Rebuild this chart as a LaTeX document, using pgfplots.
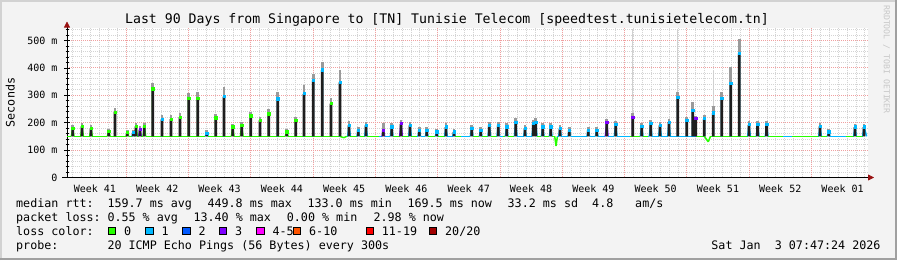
\documentclass[border=0pt]{standalone}
\usepackage{pgfplots}
\pgfplotsset{compat=1.18}
\usepackage{pgfplotstable}
\usepackage{fontspec}
\setmainfont{DejaVu Sans Mono}
\setmonofont{DejaVu Sans Mono}
\usetikzlibrary{arrows.meta}
\definecolor{bgc}{HTML}{F3F3F3}
\definecolor{framelight}{HTML}{D2D2D2}
\definecolor{framedark}{HTML}{A0A0A0}
\definecolor{gridred}{HTML}{F0A0A0}
\definecolor{gridgray}{HTML}{D4D4D4}
\definecolor{arrowred}{HTML}{991111}
\definecolor{barblack}{HTML}{1E1E1E}
\definecolor{smoke}{HTML}{9A9A9A}
\definecolor{faint}{HTML}{D0D0D0}
\definecolor{lossA}{HTML}{26FF00}
\definecolor{lossB}{HTML}{00B8FF}
\definecolor{lossC}{HTML}{0059FF}
\definecolor{lossD}{HTML}{7E00FF}
\definecolor{lossE}{HTML}{FF00FF}
\definecolor{lossF}{HTML}{FF5500}
\definecolor{lossG}{HTML}{FF0000}
\definecolor{lossH}{HTML}{A10000}
\newcommand\axisfont{\fontsize{10}{12}\selectfont}
\newcommand\lgfont{\fontsize{11.7}{14}\selectfont}

\pgfplotsset{chartgeom/.style={
  at={(67pt,82.5pt)}, anchor=south west,
  scale only axis, width=801pt, height=150pt,
  xmin=0, xmax=90, ymin=0, ymax=547}}

\pgfplotstableread{
d top smoke c
0.64 179 192 0
1.69 187 198 0
2.70 179 190 0
4.69 169 178 0
5.39 239 252 0
6.78 164 172 0
7.45 165 174 1
7.75 187 198 0
8.20 176 186 2
8.69 187 200 0
9.63 324 345 0
10.67 213 228 1
11.69 214 228 0
12.70 221 236 0
13.67 288 308 0
14.69 290 310 0
15.70 163 172 1
16.71 218 232 0
17.64 296 330 1
18.62 185 196 0
19.63 191 204 0
20.64 225 240 0
21.69 209 222 0
22.66 233 250 0
23.67 287 312 1
24.69 167 176 0
25.70 209 222 0
26.63 306 336 1
27.67 355 379 1
28.69 393 421 1
29.66 270 290 0
30.67 348 391 1
31.69 191 205 1
32.73 173 185 1
33.60 191 204 1
35.54 173 200 2
36.48 185 198 1
37.53 197 210 2
38.54 191 204 1
39.58 173 185 1
40.42 173 185 1
41.54 167 178 1
42.58 185 198 1
43.48 167 178 1
45.47 179 190 1
46.48 173 185 1
47.45 191 204 1
48.46 191 204 1
49.40 185 198 1
50.42 203 218 1
51.46 179 192 1
52.39 197 210 1
52.66 203 218 1
53.45 185 198 1
54.35 185 198 1
55.39 179 192 1
56.44 173 185 1
58.57 173 185 1
59.52 173 185 1
60.64 203 215 2
61.65 195 205 1
63.56 219 235 2
64.57 188 198 1
65.58 197 208 1
66.63 191 202 1
67.64 203 215 1
68.62 294 310 1
69.63 209 222 1
70.30 245 276 1
70.64 215 225 2
71.61 215 228 1
72.62 236 260 1
73.56 288 312 1
74.57 345 403 1
75.54 454 505 1
76.63 193 205 1
77.60 193 205 1
78.61 193 205 1
84.61 187 198 1
85.58 167 176 1
88.54 185 196 1
89.55 185 196 1
}\spikes

\pgfplotstableread{
d lo hi
63.56 235 540
68.62 310 540
72.62 260 390
}\faint

\pgfplotstableread{
d y m
0.00 150 0
0.49 150 0
0.64 179 0
0.79 150 0
1.54 150 0
1.69 187 0
1.84 150 0
2.55 150 0
2.70 179 0
2.85 150 0
4.54 150 0
4.69 169 0
4.84 150 0
5.38 150 0
5.39 239 0
5.40 150 0
6.63 150 0
6.78 164 0
6.93 150 0
7.30 150 1
7.45 165 1
7.60 150 0
7.75 187 0
7.90 150 0
8.05 150 2
8.20 176 2
8.35 150 0
8.54 150 0
8.69 187 0
8.84 150 0
9.62 150 0
9.63 324 0
9.64 150 0
10.66 150 1
10.67 213 1
10.68 150 0
11.68 150 0
11.69 214 0
11.70 150 0
12.69 150 0
12.70 221 0
12.71 150 0
13.66 150 0
13.67 288 0
13.68 150 0
14.68 150 0
14.69 290 0
14.70 150 0
15.55 150 1
15.70 163 1
15.85 150 0
16.70 150 0
16.71 218 0
16.72 150 0
17.63 150 1
17.64 296 1
17.65 150 0
18.47 150 0
18.62 185 0
18.77 150 0
19.48 150 0
19.63 191 0
19.78 150 0
20.63 150 0
20.64 225 0
20.65 150 0
21.68 150 0
21.69 209 0
21.70 150 0
22.65 150 0
22.66 233 0
22.67 150 0
23.66 150 1
23.67 287 1
23.68 150 0
24.54 150 0
24.69 167 0
24.84 150 0
25.69 150 0
25.70 209 0
25.71 150 0
26.62 150 1
26.63 306 1
26.64 150 0
27.66 150 1
27.67 355 1
27.68 150 0
28.68 150 1
28.69 393 1
28.70 150 0
29.65 150 0
29.66 270 0
29.67 150 0
30.66 150 1
30.67 348 1
30.68 150 0
31.10 145 0
31.40 150 0
31.54 150 1
31.69 191 1
31.84 150 0
32.58 150 1
32.73 173 1
32.88 150 0
33.45 150 1
33.60 191 1
33.75 150 0
35.00 150 1
35.39 150 2
35.54 173 2
35.69 150 1
36.33 150 1
36.48 185 1
36.63 150 0
37.38 150 2
37.53 197 2
37.68 150 0
38.39 150 1
38.54 191 1
38.69 150 0
39.30 150 1
39.43 150 1
39.58 173 1
39.73 150 1
40.27 150 1
40.42 173 1
40.57 150 0
41.39 150 1
41.54 167 1
41.69 150 0
42.43 150 1
42.58 185 1
42.73 150 1
43.33 150 1
43.48 167 1
43.63 150 0
44.30 150 1
45.32 150 1
45.47 179 1
45.62 150 0
46.33 150 1
46.48 173 1
46.63 150 0
47.30 150 1
47.45 191 1
47.60 150 0
48.31 150 1
48.46 191 1
48.61 150 1
49.00 150 0
49.25 150 1
49.40 185 1
49.55 150 0
50.27 150 1
50.42 203 1
50.57 150 1
51.31 150 1
51.46 179 1
51.61 150 1
52.24 150 1
52.39 197 1
52.52 165 1
52.66 203 1
52.81 150 0
53.30 150 1
53.45 185 1
53.60 150 0
54.20 150 1
54.35 185 1
54.50 150 0
54.80 150 0
54.95 115 0
55.10 150 1
55.24 150 1
55.39 179 1
55.54 150 1
56.29 150 1
56.44 173 1
56.59 150 1
58.42 150 1
58.57 173 1
58.72 150 1
59.37 150 1
59.52 173 1
59.67 150 1
60.49 150 2
60.64 203 2
60.79 150 1
61.50 150 1
61.65 195 1
61.80 150 1
63.30 150 0
63.55 150 2
63.56 219 2
63.57 150 0
64.42 150 1
64.57 188 1
64.72 150 0
65.30 150 1
65.43 150 1
65.58 197 1
65.73 150 1
66.48 150 1
66.63 191 1
66.78 150 1
67.49 150 1
67.64 203 1
67.79 150 1
68.61 150 1
68.62 294 1
68.63 150 1
69.62 150 1
69.63 209 1
69.64 150 1
70.29 150 1
70.30 245 1
70.31 150 1
70.63 150 2
70.64 215 2
70.65 150 0
71.60 150 1
71.61 215 1
71.62 150 0
72.05 130 0
72.30 150 0
72.61 150 1
72.62 236 1
72.63 150 0
73.55 150 1
73.56 288 1
73.57 150 0
74.56 150 1
74.57 345 1
74.58 150 0
75.53 150 1
75.54 454 1
75.55 150 0
76.48 150 1
76.63 193 1
76.78 150 0
77.45 150 1
77.60 193 1
77.75 150 0
78.46 150 1
78.61 193 1
78.76 150 0
80.50 150 1
81.50 150 0
84.46 150 1
84.61 187 1
84.76 150 0
85.43 150 1
85.58 167 1
85.73 150 1
87.50 150 0
88.39 150 1
88.54 185 1
88.69 150 0
89.40 150 1
89.55 185 1
89.85 150 1
}\median

\begin{document}
\begin{tikzpicture}
% canvas
\fill[bgc] (0pt,0pt) rectangle (897pt,260pt);
\draw[framelight, line width=2pt] (1pt,0pt) -- (1pt,259pt) -- (897pt,259pt);
\draw[framedark, line width=2pt] (0pt,1pt) -- (896pt,1pt) -- (896pt,260pt);

\begin{axis}[
  chartgeom,
  axis background/.style={fill=white},
  axis lines=left,
  axis line style={black, line width=0.8pt},
  x axis line style={shorten <=-5pt, shorten >=-6pt, -{Triangle[length=6pt,width=6pt,color=arrowred]}},
  y axis line style={shorten >=-6pt, -{Triangle[length=6pt,width=6pt,color=arrowred]}},
  xtick={3.14,10.14,...,87.14},
  xticklabels={Week 41,Week 42,Week 43,Week 44,Week 45,Week 46,Week 47,Week 48,Week 49,Week 50,Week 51,Week 52,Week 01},
  minor xtick={0.64,1.64,...,89.64},
  extra x ticks={6.64,13.64,...,83.64},
  extra x tick labels={},
  extra x tick style={grid=major},
  xtick style={draw=none},
  ytick={0,100,...,500},
  yticklabels={0,100 m,200 m,300 m,400 m,500 m},
  minor ytick={20,40,...,540},
  ytick style={black, line width=0.6pt},
  tick align=center,
  major tick length=6pt, minor tick length=3pt,
  ymajorgrids, yminorgrids, xminorgrids,
  major grid style={draw=gridred, line width=0.7pt, dash pattern=on 1pt off 1pt},
  minor grid style={draw=gridgray, line width=0.7pt, dash pattern=on 1pt off 1pt},
  yticklabel style={font=\axisfont, anchor=east, inner sep=0pt, xshift=-6.3pt},
  xticklabel style={font=\axisfont, anchor=base, inner sep=0pt, yshift=-12.5pt},
]
% faint tall smoke
\addplot[quiver={u=0, v=\thisrow{hi}-\thisrow{lo}}, -, draw=faint, line width=1pt, forget plot]
  table[x=d, y=lo] {\faint};
% smoke above median
\addplot[quiver={u=0, v=\thisrow{smoke}-\thisrow{top}}, -, draw=smoke, line width=2.6pt, forget plot]
  table[x=d, y=top] {\spikes};
% median line coloured by loss
\addplot[mesh, line width=1.5pt, shader=flat corner, point meta=explicit,
  colormap={loss}{rgb255=(38,255,0) rgb255=(0,184,255) rgb255=(126,0,255)},
  colormap access=direct, forget plot]
  table[x=d, y=y, meta=m] {\median};
\end{axis}

% second, transparent axis on top: dark spike bars (stacked on an invisible base at 150)
\begin{axis}[chartgeom, hide axis, ybar stacked, bar width=2.8pt]
\addplot[draw=none, fill=none, forget plot] table[x=d, y expr=150] {\spikes};
\addplot[draw=none, fill=barblack, forget plot] table[x=d, y expr=\thisrow{top}-151] {\spikes};
\end{axis}

% third, transparent axis: loss colour at the spike tops
\begin{axis}[chartgeom, hide axis]
\addplot[scatter, only marks, mark=square*, mark size=1.1pt, forget plot,
  point meta=explicit symbolic,
  scatter/classes={0={mark=square*, lossA}, 1={mark=square*, lossB}, 2={mark=square*, lossD}}]
  table[x=d, y=top, meta=c] {\spikes};
\end{axis}

% title
\node[anchor=base, font=\fontsize{13.2}{15}\selectfont, inner sep=0pt] at (447pt,236pt)
  {Last 90 Days from Singapore to [TN] Tunisie Telecom [speedtest.tunisietelecom.tn]};
% y label
\node[rotate=90, font=\lgfont, inner sep=0pt] at (10.3pt,157.5pt) {Seconds};
% watermark
\node[rotate=-90, anchor=south west, font=\fontsize{8.2}{9}\selectfont, text=black!22, inner sep=0pt] at (883pt,255pt) {RRDTOOL / TOBI OETIKER};

% legend lines
\begin{scope}[every node/.style={font=\lgfont, inner sep=0pt, anchor=base west}]
\node at (16pt,52.4pt) {median rtt:};
\node at (107.3pt,52.4pt) {159.7 ms avg};
\node at (207.3pt,52.4pt) {449.8 ms max};
\node at (307.3pt,52.4pt) {133.0 ms min};
\node at (407.3pt,52.4pt) {169.5 ms now};
\node at (507.5pt,52.4pt) {33.2 ms sd};
\node at (592pt,52.4pt) {4.8};
\node at (635pt,52.4pt) {am/s};
\node at (16pt,38.4pt) {packet loss:};
\node at (107.3pt,38.4pt) {0.55 \% avg};
\node at (193.3pt,38.4pt) {13.40 \% max};
\node at (286.7pt,38.4pt) {0.00 \% min};
\node at (373.4pt,38.4pt) {2.98 \% now};
\node at (16pt,24.7pt) {loss color:};
\node at (124pt,24.7pt) {0};
\node at (161.4pt,24.7pt) {1};
\node at (198.4pt,24.7pt) {2};
\node at (235pt,24.7pt) {3};
\node at (272.4pt,24.7pt) {4-5};
\node at (309pt,24.7pt) {6-10};
\node at (381.7pt,24.7pt) {11-19};
\node at (445pt,24.7pt) {20/20};
\node at (16pt,10.7pt) {probe:};
\node at (107.3pt,10.7pt) {20 ICMP Echo Pings (56 Bytes) every 300s};
\node[anchor=base east] at (880.7pt,10.7pt) {Sat Jan\ \ 3 07:47:24 2026};
\end{scope}
% loss colour boxes
\begin{scope}[draw=black, line width=0.6pt]
\filldraw[fill=lossA] (108.3pt,25.4pt) rectangle ++(7.3pt,7.3pt);
\filldraw[fill=lossB] (145.7pt,25.4pt) rectangle ++(7.3pt,7.3pt);
\filldraw[fill=lossC] (182.7pt,25.4pt) rectangle ++(7.3pt,7.3pt);
\filldraw[fill=lossD] (219.3pt,25.4pt) rectangle ++(7.3pt,7.3pt);
\filldraw[fill=lossE] (256.7pt,25.4pt) rectangle ++(7.3pt,7.3pt);
\filldraw[fill=lossF] (293.3pt,25.4pt) rectangle ++(7.3pt,7.3pt);
\filldraw[fill=lossG] (366pt,25.4pt) rectangle ++(7.3pt,7.3pt);
\filldraw[fill=lossH] (429.3pt,25.4pt) rectangle ++(7.3pt,7.3pt);
\end{scope}
\pgfresetboundingbox
\useasboundingbox (0pt,0pt) rectangle (897pt,260pt);
\end{tikzpicture}
\end{document}
